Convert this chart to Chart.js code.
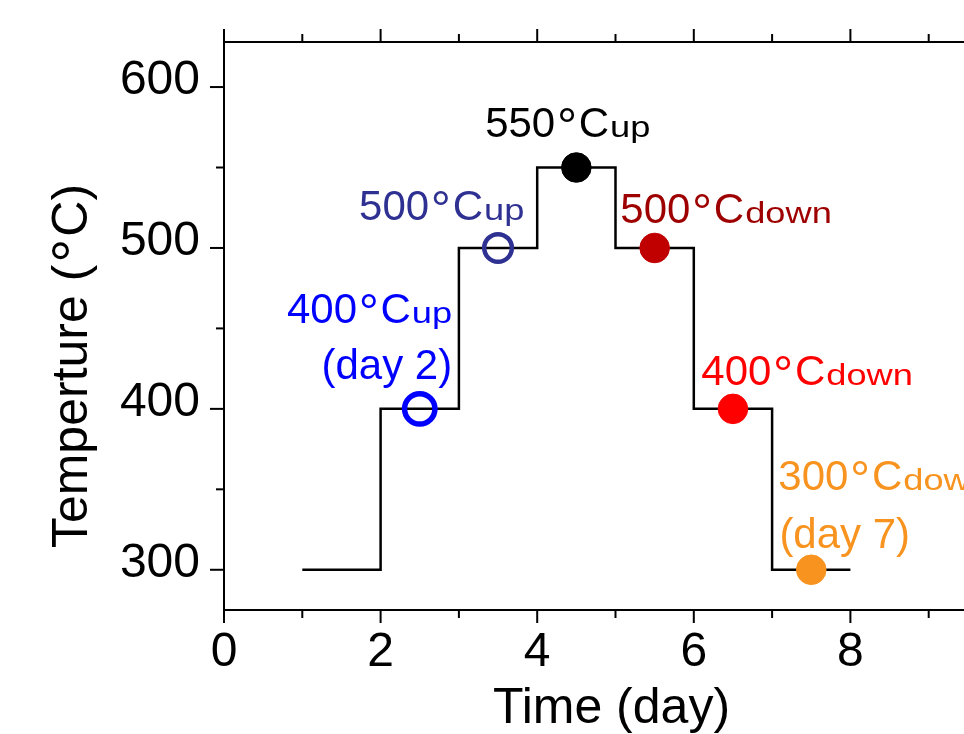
<!DOCTYPE html>
<html>
<head>
<meta charset="utf-8">
<script src="https://cdn.jsdelivr.net/npm/chart.js@4.4.1/dist/chart.umd.min.js"></script>
<style>
    html, body { margin: 0; padding: 0; background: #fff; overflow: hidden; }
    #wrap { width: 1060px; height: 734px; }
</style>
</head>
<body>
<div id="wrap"><canvas id="tempChart" width="1060" height="734"></canvas></div>
<script>
// step profile corners (day, °C)
const stepDays  = [1, 2, 2, 3, 3, 4, 4, 5, 5, 6, 6, 7, 7, 8];
const stepTemps = [300, 300, 400, 400, 500, 500, 550, 550, 500, 500, 400, 400, 300, 300];

// measurement markers
const markerDays  = [2.5, 3.5, 4.5, 5.5, 6.5, 7.5];
const markerTemps = [400, 500, 550, 500, 400, 300];

const xTicks = [0, 2, 4, 6, 8, 10];
const yTicks = [300, 400, 500, 600];

// annotation texts and where they sit (in day / °C units)
const labelTexts = ['400°C', '(day 2)', '500°C', '550°C', '500°C', '400°C', '300°C', '(day 7)'];
const labelSubs  = ['up', '', 'up', 'up', 'down', 'down', 'down', ''];
const labelDays  = [2.914, 2.914, 1.725, 3.335, 5.061, 6.096, 7.08, 7.093];
const labelTemps = [453.3, 418.6, 517.3, 568.8, 515.4, 414.8, 349.7, 313.7];

const markerColors = ['#0000FF', '#2E3192', '#000000', '#C00000', '#FF0000', '#F7931E'];
const markerHollow = [true, true, false, false, false, false];
const labelColors  = ['#0000FF', '#0000FF', '#2E3192', '#000000', '#9E0000', '#FF0000', '#F7931E', '#F7931E'];
const labelAlign   = ['right', 'right', 'left', 'left', 'left', 'left', 'left', 'left'];

const FONT = '"Liberation Sans", Arial, sans-serif';

// draw text with a slightly larger degree sign, plus an optional (wide) subscript
function drawRich(ctx, text, sub, x, y, align, size, subSize) {
    const segs = [];
    const i = text.indexOf('°');
    if (i >= 0) {
        segs.push({ t: text.slice(0, i), f: size, dy: 0, sx: 1, g: 0 });
        segs.push({ t: '°', f: size * 1.2, dy: size * 0.14, sx: 1, g: size * 0.04 });
        segs.push({ t: text.slice(i + 1), f: size, dy: 0, sx: 1, g: size * 0.04 });
    } else {
        segs.push({ t: text, f: size, dy: 0, sx: 1, g: 0 });
    }
    if (sub) segs.push({ t: sub, f: subSize, dy: 0, sx: 1.25, g: 1 });

    let total = 0;
    segs.forEach(s => {
        ctx.font = `${s.f}px ${FONT}`;
        s.w = ctx.measureText(s.t).width * s.sx;
        total += s.g + s.w;
    });
    let cx = align === 'right' ? x - total : (align === 'center' ? x - total / 2 : x);
    ctx.textAlign = 'left';
    ctx.textBaseline = 'alphabetic';
    segs.forEach(s => {
        cx += s.g;
        ctx.font = `${s.f}px ${FONT}`;
        ctx.save();
        ctx.translate(cx, y + s.dy);
        ctx.scale(s.sx, 1);
        ctx.fillText(s.t, 0, 0);
        ctx.restore();
        cx += s.w;
    });
}

const framePlugin = {
    id: 'frame',
    afterDraw(chart) {
        const { ctx, chartArea: a, scales: { x, y } } = chart;
        ctx.save();
        ctx.strokeStyle = '#000';
        ctx.lineWidth = 2;
        ctx.strokeRect(a.left, a.top, a.right - a.left, a.bottom - a.top);

        const seg = (x1, y1, x2, y2) => {
            ctx.beginPath();
            ctx.moveTo(x1, y1);
            ctx.lineTo(x2, y2);
            ctx.stroke();
        };
        // x ticks: major every 2, minor every 1
        for (let v = x.min; v <= x.max; v += 1) {
            const px = x.getPixelForValue(v);
            const len = xTicks.includes(v) ? 13 : 8;
            seg(px, a.bottom, px, a.bottom + len);
            seg(px, a.top, px, a.top - len);
        }
        // y ticks: major every 100, minor every 50
        for (let v = yTicks[0]; v <= yTicks[yTicks.length - 1]; v += 50) {
            const py = y.getPixelForValue(v);
            const len = yTicks.includes(v) ? 14 : 8;
            seg(a.left, py, a.left - len, py);
            seg(a.right, py, a.right + len, py);
        }

        ctx.fillStyle = '#000';
        // x title
        drawRich(ctx, 'Time (day)', '', x.getPixelForValue(5) - 4, a.bottom + 113, 'center', 50, 0);
        // y title (rotated)
        ctx.save();
        ctx.translate(a.left - 137, (a.top + a.bottom) / 2 + 40);
        ctx.rotate(-Math.PI / 2);
        drawRich(ctx, 'Temperture (°C)', '', 0, 0, 'center', 50, 0);
        ctx.restore();

        // annotations
        labelTexts.forEach((t, k) => {
            ctx.fillStyle = labelColors[k];
            drawRich(ctx, t, labelSubs[k], x.getPixelForValue(labelDays[k]),
                y.getPixelForValue(labelTemps[k]), labelAlign[k], 42, 29);
        });
        ctx.restore();
    }
};

const ctx = document.getElementById('tempChart').getContext('2d');

new Chart(ctx, {
    data: {
        datasets: [
            {
                type: 'line',
                data: stepDays.map((d, i) => ({ x: d, y: stepTemps[i] })),
                borderColor: '#000',
                borderWidth: 2.5,
                pointRadius: 0,
                tension: 0,
                order: 2
            },
            {
                type: 'scatter',
                data: markerDays.map((d, i) => ({ x: d, y: markerTemps[i] })),
                pointRadius: markerHollow.map((h, i) => i === 0 ? 15.2 : (h ? 13.8 : 14.8)),
                pointBorderWidth: markerHollow.map((h, i) => i === 0 ? 5.5 : (h ? 4.5 : 1)),
                pointBorderColor: markerColors,
                pointBackgroundColor: markerColors.map((c, i) => markerHollow[i] ? 'rgba(0,0,0,0)' : c),
                clip: false,
                order: 1
            }
        ]
    },
    options: {
        responsive: false,
        animation: false,
        layout: { padding: { top: 42, right: 53, left: 0, bottom: 0 } },
        plugins: {
            legend: { display: false },
            tooltip: { enabled: false }
        },
        scales: {
            x: {
                type: 'linear',
                min: 0,
                max: 10,
                afterBuildTicks: s => { s.ticks = xTicks.map(v => ({ value: v })); },
                afterFit: s => { s.height = 124; s.paddingLeft = 0; s.paddingRight = 0; },
                grid: { display: false },
                border: { display: false },
                ticks: {
                    color: '#000',
                    font: { family: FONT, size: 48 },
                    padding: 6,
                    maxRotation: 0
                }
            },
            y: {
                type: 'linear',
                min: 275,
                max: 628,
                afterBuildTicks: s => { s.ticks = yTicks.map(v => ({ value: v })); },
                afterFit: s => { s.width = 224; s.paddingTop = 0; s.paddingBottom = 0; },
                grid: { display: false },
                border: { display: false },
                ticks: {
                    color: '#000',
                    font: { family: FONT, size: 48 },
                    padding: 16,
                    labelOffset: -6
                }
            }
        }
    },
    plugins: [framePlugin]
});
</script>
</body>
</html>
